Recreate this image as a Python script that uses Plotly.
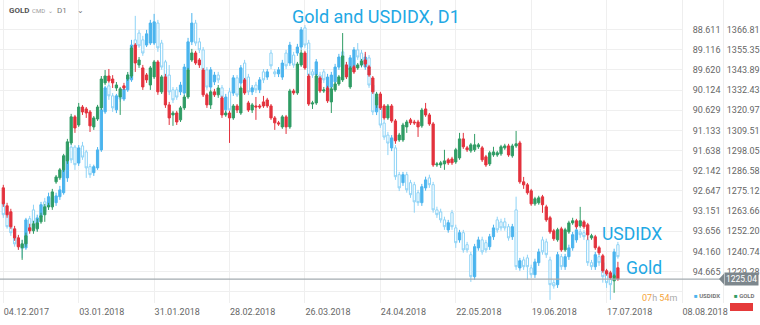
import plotly.graph_objects as go

# ---------------- data ----------------
date_labels = ["04.12.2017", "03.01.2018", "31.01.2018", "28.02.2018", "26.03.2018",
               "24.04.2018", "22.05.2018", "19.06.2018", "17.07.2018", "08.08.2018"]
date_label_bars = [0, 20, 40, 60, 80, 100, 120, 140, 160, 180]

usd_ticks = [88.611, 89.116, 89.620, 90.124, 90.629, 91.133, 91.638, 92.142,
             92.647, 93.151, 93.656, 94.160, 94.665, 95.169]
gold_ticks = [1366.81, 1355.35, 1343.89, 1332.43, 1320.97, 1309.51, 1298.05,
              1286.58, 1275.12, 1263.66, 1252.20, 1240.74, 1229.28]

gold_open = [1276.9,1266.7,1263.3,1253.6,1248.5,1242.9,1245.1,1254.2,1252.5,1253.6,
 1257.6,1261.6,1266.1,1266.1,1280.3,1282.6,1287.1,1292.2,1302.4,1317.2,
 1312.6,1322.8,1321.7,1320.0,1311.5,1316.0,1322.3,1336.5,1340.4,1338.7,
 1333.6,1328.5,1334.8,1338.7,1340.4,1358.0,1346.7,1345.0,1341.0,1335.3,
 1339.9,1348.4,1331.4,1339.9,1324.0,1318.3,1319.4,1315.5,1322.3,1328.5,
 1349.5,1353.5,1349.5,1343.8,1329.7,1324.0,1331.4,1329.7,1328.0,1318.3,
 1319.4,1316.6,1323.4,1319.4,1338.2,1325.1,1321.1,1323.4,1323.4,1325.7,
 1326.8,1323.4,1316.6,1313.8,1311.5,1317.2,1311.5,1331.9,1330.8,1346.7,
 1353.5,1340.4,1324.5,1325.1,1339.3,1331.9,1333.6,1325.7,1332.5,1335.9,
 1338.2,1346.7,1334.2,1345.6,1345.0,1346.7,1349.5,1345.6,1339.3,1324.0,
 1330.2,1323.4,1316.6,1323.4,1314.9,1304.1,1304.1,1311.5,1315.5,1314.3,
 1314.3,1312.1,1321.7,1318.3,1313.2,1289.9,1289.9,1290.5,1292.8,1293.3,
 1291.6,1293.9,1304.7,1299.6,1297.9,1298.5,1300.2,1299.6,1294.5,1290.5,
 1295.6,1295.6,1296.2,1299.6,1300.7,1295.1,1300.7,1302.4,1280.3,1278.6,
 1275.2,1267.8,1268.4,1271.8,1266.1,1259.9,1252.5,1247.4,1253.6,1241.7,
 1251.9,1257.0,1258.2,1255.3,1257.6,1255.9,1248.5,1249.1,1242.9,1238.3,
 1229.8,1228.7,1224.1,1231.5]
gold_close = [1267.8,1261.6,1254.8,1248.5,1243.4,1245.1,1249.7,1252.5,1256.5,1257.0,
 1261.0,1266.1,1266.7,1274.6,1283.1,1287.1,1295.1,1303.0,1317.2,1310.9,
 1322.8,1320.0,1319.4,1312.1,1316.6,1322.8,1338.7,1340.4,1337.6,1336.5,
 1335.3,1333.1,1333.6,1341.0,1356.3,1347.8,1349.5,1334.2,1338.2,1345.0,
 1348.4,1331.4,1339.9,1324.0,1316.6,1319.4,1314.3,1322.3,1328.5,1343.8,
 1353.5,1347.8,1346.7,1329.7,1324.0,1331.4,1329.7,1333.6,1318.3,1319.4,
 1316.6,1323.4,1321.1,1333.6,1330.8,1321.1,1324.0,1322.8,1322.8,1323.4,
 1323.4,1316.6,1313.8,1313.2,1317.2,1311.5,1331.9,1330.8,1347.2,1353.5,
 1345.0,1324.5,1325.1,1340.4,1331.9,1332.5,1326.3,1333.1,1335.9,1339.9,
 1351.8,1339.9,1345.0,1342.7,1346.7,1348.9,1347.2,1341.0,1331.4,1330.2,
 1322.3,1316.6,1323.4,1314.9,1303.6,1306.9,1312.6,1314.3,1313.8,1313.8,
 1311.5,1321.1,1318.3,1313.2,1289.9,1290.5,1291.1,1292.2,1291.1,1291.1,
 1298.5,1304.7,1300.2,1298.5,1301.3,1301.3,1301.3,1292.8,1289.9,1296.8,
 1297.3,1296.8,1300.2,1300.7,1295.6,1300.7,1301.9,1280.3,1278.6,1274.1,
 1267.8,1270.7,1271.2,1267.3,1258.7,1251.9,1248.0,1253.1,1241.7,1253.1,
 1257.0,1258.2,1254.8,1258.2,1254.8,1250.2,1249.7,1242.9,1240.0,1229.8,
 1228.1,1225.9,1227.0,1225.04]
gold_high = [1278.6,1268.4,1265.0,1255.3,1250.2,1247.4,1251.4,1256.5,1258.2,1259.3,
 1262.7,1267.8,1268.4,1276.3,1284.2,1288.2,1296.2,1304.7,1318.9,1318.3,
 1325.1,1323.9,1322.8,1321.1,1317.7,1324.0,1340.4,1343.8,1344.4,1340.9,
 1337.0,1334.2,1336.5,1342.7,1357.4,1359.1,1351.2,1346.7,1342.1,1346.1,
 1349.5,1349.5,1341.0,1341.6,1325.7,1320.6,1320.6,1323.4,1329.7,1345.0,
 1355.8,1354.7,1350.6,1345.0,1330.8,1332.5,1333.1,1335.3,1329.1,1320.6,
 1320.6,1324.5,1324.5,1334.8,1339.3,1326.3,1325.1,1328.5,1324.5,1329.1,
 1328.0,1324.5,1317.7,1314.9,1318.3,1318.3,1333.1,1333.1,1348.4,1355.2,
 1354.7,1341.6,1326.3,1341.6,1340.4,1334.2,1334.8,1334.2,1337.0,1341.0,
 1364.8,1348.4,1346.1,1346.7,1347.8,1350.1,1354.1,1346.7,1340.4,1331.4,
 1331.4,1324.5,1324.5,1324.5,1316.0,1308.1,1313.8,1315.5,1316.6,1315.5,
 1315.5,1322.3,1325.1,1319.4,1314.3,1291.6,1292.2,1298.5,1293.9,1294.5,
 1299.6,1308.1,1308.1,1300.7,1302.4,1307.5,1302.4,1300.7,1295.6,1297.9,
 1300.2,1297.9,1301.3,1301.9,1301.9,1301.9,1309.2,1303.6,1283.1,1279.7,
 1276.3,1271.8,1272.4,1272.9,1267.3,1261.0,1253.6,1254.2,1254.8,1254.2,
 1258.2,1259.9,1259.3,1266.1,1258.7,1257.0,1250.8,1250.2,1244.0,1239.4,
 1230.9,1229.8,1228.1,1234.9]
gold_low = [1266.1,1259.9,1253.6,1246.8,1241.7,1236.0,1243.4,1250.8,1250.8,1251.9,
 1256.5,1257.6,1264.4,1264.4,1279.2,1281.4,1285.9,1290.5,1301.3,1308.1,
 1311.5,1318.3,1316.6,1308.6,1309.8,1314.9,1321.1,1335.3,1336.5,1333.6,
 1331.9,1318.3,1332.5,1337.6,1339.3,1342.7,1345.0,1332.5,1336.5,1332.5,
 1338.7,1329.7,1330.2,1322.3,1312.6,1312.1,1312.6,1314.3,1321.1,1327.4,
 1348.4,1346.7,1345.0,1328.5,1322.3,1321.7,1328.5,1328.0,1316.6,1317.2,
 1302.4,1315.5,1319.4,1318.3,1329.7,1320.0,1319.4,1315.5,1321.7,1322.3,
 1322.3,1315.5,1309.8,1312.1,1310.4,1307.5,1310.4,1329.7,1329.7,1345.6,
 1343.9,1323.4,1321.7,1324.0,1330.8,1330.8,1325.1,1319.4,1331.4,1334.8,
 1337.0,1338.7,1333.1,1341.6,1343.9,1345.6,1345.6,1339.9,1330.2,1322.3,
 1321.1,1315.5,1315.5,1313.8,1301.9,1303.0,1303.0,1308.1,1312.6,1312.6,
 1305.8,1311.0,1317.2,1312.1,1288.8,1288.8,1288.2,1287.1,1289.9,1289.9,
 1290.5,1292.8,1299.0,1297.3,1296.8,1297.3,1299.0,1291.6,1288.8,1289.3,
 1294.5,1294.5,1295.1,1298.5,1294.5,1294.0,1299.6,1279.2,1276.3,1273.0,
 1266.7,1266.7,1267.3,1262.7,1257.6,1250.8,1246.8,1246.3,1240.6,1240.6,
 1250.8,1255.9,1253.6,1254.2,1253.6,1247.4,1247.4,1241.7,1238.9,1228.7,
 1227.0,1224.7,1217.3,1224.1]

usd_open = [92.97,93.24,93.54,93.77,93.87,93.99,94.07,93.34,93.12,93.57,
 93.29,92.92,93.04,92.82,92.94,92.79,92.69,92.32,91.55,91.55,
 91.95,91.52,91.67,92.04,92.19,92.07,91.62,90.67,90.02,90.27,
 90.62,90.20,90.35,90.12,89.87,88.87,88.70,88.87,89.00,88.95,
 88.95,88.45,88.95,89.42,89.75,90.12,90.12,90.17,90.20,89.62,
 88.92,88.45,88.92,89.12,89.62,90.05,89.92,89.75,90.07,90.62,
 90.17,90.20,89.82,89.95,89.45,89.80,90.17,90.00,90.12,89.67,
 89.80,89.20,89.67,89.72,89.80,89.20,89.45,89.25,89.20,89.05,
 88.57,88.95,89.67,89.75,89.75,89.67,90.17,90.05,89.92,89.55,
 89.17,89.50,89.62,89.55,89.12,89.20,89.55,89.32,90.00,90.67,
 90.55,90.95,91.25,91.57,91.57,92.24,92.44,92.24,92.44,92.49,
 92.69,92.94,92.57,92.32,92.49,93.12,93.17,93.37,93.62,93.19,
 93.57,93.87,93.69,93.99,94.24,94.79,94.07,93.87,93.94,94.04,
 93.79,93.37,93.42,93.42,93.54,93.79,93.12,94.57,94.37,94.32,
 94.57,94.74,94.44,93.87,93.92,94.37,94.94,94.99,94.29,94.54,
 94.29,94.07,93.87,93.67,93.69,93.87,94.44,94.54,94.29,94.44,
 94.69,94.79,94.79,93.99]
usd_close = [93.24,93.54,93.69,93.97,94.02,94.09,93.37,93.62,93.44,93.32,
 92.99,93.17,92.79,92.99,92.77,92.62,92.12,91.75,91.87,91.99,
 91.57,91.80,92.07,92.24,92.04,91.62,90.62,90.07,90.27,90.57,
 90.27,90.35,90.10,89.80,89.00,89.05,89.02,89.20,88.72,88.45,
 88.42,89.07,89.55,90.12,90.17,90.37,90.30,90.00,89.55,88.92,
 88.45,88.95,89.12,89.62,90.05,89.62,89.75,89.87,90.30,90.30,
 90.62,89.82,90.25,89.57,89.87,90.17,90.07,90.12,89.87,89.87,
 89.67,89.52,89.72,89.62,89.45,89.52,89.00,89.50,89.05,88.62,
 89.00,89.75,89.75,89.42,89.95,89.87,89.80,89.75,89.55,89.30,
 89.50,89.75,89.32,89.12,89.30,89.50,89.30,90.00,90.67,90.30,
 91.00,91.30,91.45,91.32,92.29,92.57,92.24,92.62,92.74,92.92,
 92.94,92.54,92.37,92.49,93.12,93.24,93.37,93.54,93.44,93.54,
 93.94,93.69,94.12,94.12,94.79,94.04,93.87,94.17,94.12,93.79,
 93.57,93.62,93.57,93.57,93.82,93.54,94.54,94.39,94.54,94.54,
 94.74,94.42,94.17,94.17,94.24,94.99,95.02,94.24,94.54,94.29,
 94.07,93.74,93.62,93.74,93.79,94.44,94.54,94.24,94.44,94.79,
 94.94,94.99,94.17,94.29]
usd_high = [93.32,93.59,93.77,94.04,94.12,94.32,94.12,93.69,93.52,93.64,
 93.34,93.24,93.12,93.07,93.02,92.87,92.74,92.42,91.95,92.12,
 92.02,91.87,92.32,92.32,92.27,92.12,91.67,90.72,90.37,90.67,
 90.70,90.42,90.40,90.17,89.92,89.07,89.07,89.27,89.05,89.00,
 89.00,89.17,89.62,90.20,90.25,90.45,90.37,90.25,90.27,89.70,
 89.00,89.02,89.20,89.70,90.12,90.12,90.00,89.95,90.37,90.70,
 90.70,90.27,90.30,90.02,89.95,90.25,90.25,90.20,90.20,89.95,
 89.87,89.60,89.80,89.80,89.87,89.60,89.52,89.57,89.27,89.12,
 89.07,89.82,89.82,89.82,90.02,89.95,90.25,90.12,90.00,89.62,
 89.57,89.82,89.70,89.62,89.37,89.57,89.62,90.07,90.75,90.75,
 91.07,91.37,91.75,91.65,92.37,92.65,92.52,92.69,92.82,93.19,
 93.02,93.02,92.64,92.57,93.19,93.32,93.44,93.62,93.69,93.62,
 94.07,93.94,94.19,94.19,94.92,94.87,94.14,94.24,94.19,94.12,
 93.87,93.69,93.64,93.64,93.89,93.87,94.62,94.64,94.62,94.87,
 94.82,94.82,94.52,94.24,94.32,95.37,95.09,95.07,94.62,94.62,
 94.37,94.14,93.94,93.82,93.87,94.52,94.62,94.62,94.52,94.94,
 95.07,95.37,94.87,94.34]
usd_low = [92.92,93.19,93.47,93.69,93.77,93.87,93.32,93.27,92.99,93.24,
 92.92,92.82,92.69,92.74,92.69,92.52,92.07,91.62,91.45,91.50,
 91.50,91.42,91.62,91.97,91.99,91.55,90.55,90.02,89.95,90.20,
 90.22,90.10,90.02,89.72,88.87,88.27,88.62,88.77,88.62,88.37,
 88.22,88.37,88.87,89.37,89.50,90.05,90.05,89.92,89.47,88.82,
 88.20,88.37,88.82,89.05,89.55,89.55,89.67,89.67,90.00,90.22,
 90.07,89.75,89.75,89.50,89.37,89.72,90.00,89.92,89.80,89.60,
 89.60,89.12,89.60,89.55,89.37,89.12,88.92,89.17,88.97,88.55,
 88.50,88.87,89.60,89.35,89.67,89.60,89.72,89.67,89.47,89.22,
 89.10,89.42,89.25,89.05,88.95,89.12,89.22,89.25,89.92,90.22,
 90.47,90.87,91.17,91.25,91.50,92.17,92.17,92.17,92.37,92.42,
 92.62,92.47,92.29,92.24,92.42,93.04,93.09,93.29,93.37,93.12,
 93.49,93.62,93.62,93.92,94.17,93.97,93.79,93.79,93.87,93.72,
 93.49,93.29,93.34,93.32,93.47,93.47,92.79,94.32,94.29,94.24,
 94.49,94.34,94.09,93.79,93.84,94.29,94.87,94.17,94.22,94.22,
 93.99,93.67,93.54,93.59,93.62,93.79,94.37,94.17,94.22,94.37,
 94.62,94.72,94.09,93.92]

gold_last = gold_close[-1]
bars = list(range(len(gold_close)))

# ---------------- figure ----------------
W, H = 760, 325
PLOT_R = 682      # right edge of candle area (px)
PLOT_B = 303      # bottom edge of candle area (px)
GOLD_AX = 723     # second price column separator (px)

fig = go.Figure()

fig.add_trace(go.Candlestick(
    x=bars, open=usd_open, high=usd_high, low=usd_low, close=usd_close,
    xaxis="x", yaxis="y", name="USDIDX",
    increasing=dict(fillcolor="#ffffff", line=dict(color="#8ed3f6", width=1)),
    decreasing=dict(fillcolor="#4bb4ee", line=dict(color="#4bb4ee", width=1)),
    whiskerwidth=0, hoverinfo="skip", showlegend=False))

fig.add_trace(go.Candlestick(
    x=bars, open=gold_open, high=gold_high, low=gold_low, close=gold_close,
    xaxis="x", yaxis="y2", name="GOLD",
    increasing=dict(fillcolor="#2f9c64", line=dict(color="#2f9c64", width=1)),
    decreasing=dict(fillcolor="#e3323d", line=dict(color="#e3323d", width=1)),
    whiskerwidth=0, hoverinfo="skip", showlegend=False))

usd_top = 88.611 - 29.5 * 0.024996
usd_bot = 88.611 + (PLOT_B - 29.5) * 0.024996
gold_top = 1366.81 + 29.5 * 0.56784
gold_bot = 1366.81 - (PLOT_B - 29.5) * 0.56784

tick_font = dict(family="Roboto", size=9, color="#666666")

fig.update_layout(
    width=W, height=H,
    margin=dict(l=0, r=0, t=0, b=0, autoexpand=False),
    paper_bgcolor="white", plot_bgcolor="white",
    showlegend=False,
    boxgap=0.15,
    xaxis=dict(
        domain=[0, PLOT_R / W], range=[-0.875, 180],
        tickvals=date_label_bars, ticktext=date_labels,
        ticklabelposition="outside right",
        ticks="outside", ticklen=5, tickcolor="rgba(0,0,0,0)",
        showgrid=True, gridcolor="#efefef", gridwidth=1,
        zeroline=False, showline=False, automargin=False,
        rangeslider=dict(visible=False),
        tickfont=tick_font, fixedrange=True),
    yaxis=dict(
        domain=[1 - PLOT_B / H, 1], range=[usd_bot, usd_top],
        side="right", anchor="x",
        tickvals=usd_ticks,
        ticktext=[f"{v:.3f}" for v in usd_ticks[:-1]] + [""],
        ticks="outside", ticklen=8, tickcolor="rgba(0,0,0,0)",
        showgrid=True, gridcolor="#efefef", gridwidth=1,
        zeroline=False, showline=True, linecolor="#eeeeee", automargin=False,
        tickfont=tick_font),
    yaxis2=dict(
        domain=[1 - PLOT_B / H, 1], range=[gold_bot, gold_top],
        overlaying="y", side="right", anchor="free", position=GOLD_AX / W,
        autoshift=False, automargin=False,
        tickvals=gold_ticks, ticktext=[f"{v:.2f}" for v in gold_ticks],
        ticks="", ticklabelstandoff=1,
        showgrid=False, zeroline=False, showline=True, linecolor="#eeeeee",
        tickfont=tick_font),
)

# current gold price line and tag
fig.add_shape(type="line", xref="paper", yref="y2", x0=0, x1=GOLD_AX / W,
              y0=gold_last, y1=gold_last, line=dict(color="#a3abb0", width=1.2))
fig.add_shape(type="path", xref="paper", yref="paper",
              path=f"M {(GOLD_AX-4)/W} {1-279/H} L {(GOLD_AX+1)/W} {1-273.5/H} L {(GOLD_AX+1)/W} {1-284.5/H} Z",
              fillcolor="#7d878d", line=dict(width=0))
fig.add_annotation(xref="paper", yref="y2", x=(GOLD_AX + 1) / W, y=gold_last,
                   xanchor="left", yanchor="middle", text=f"{gold_last:.2f}",
                   showarrow=False, bgcolor="#7d878d", borderpad=1,
                   font=dict(family="Roboto", size=8.5, color="white"))

# titles / labels
blue = "#22a8e4"
fig.add_annotation(xref="paper", yref="paper", x=376 / W, y=1 - 17 / H,
                   text="Gold and USDIDX, D1", showarrow=False,
                   xanchor="center", yanchor="middle",
                   font=dict(family="Roboto", size=18, color=blue))
fig.add_annotation(xref="paper", yref="paper", x=600 / W, y=1 - 234 / H,
                   text="USDIDX", showarrow=False, xanchor="left", yanchor="middle",
                   font=dict(family="Roboto", size=17.5, color=blue))
fig.add_annotation(xref="paper", yref="paper", x=624 / W, y=1 - 268 / H,
                   text="Gold", showarrow=False, xanchor="left", yanchor="middle",
                   font=dict(family="Roboto", size=17.5, color=blue))

# top-left instrument header
fig.add_annotation(xref="paper", yref="paper", x=7 / W, y=1 - 10 / H,
                   text="<b>GOLD</b>", showarrow=False, xanchor="left", yanchor="middle",
                   font=dict(family="Roboto", size=8, color="#555555"))
fig.add_annotation(xref="paper", yref="paper", x=30 / W, y=1 - 10 / H,
                   text="CMD  \u2304", showarrow=False, xanchor="left", yanchor="middle",
                   font=dict(family="Roboto", size=6, color="#999999"))
fig.add_annotation(xref="paper", yref="paper", x=55 / W, y=1 - 10 / H,
                   text="D1     \u2304", showarrow=False, xanchor="left", yanchor="middle",
                   font=dict(family="Roboto", size=8, color="#777777"))

# countdown and legend
fig.add_annotation(xref="paper", yref="paper", x=679 / W, y=1 - 298 / H,
                   text='<span style="color:#f5a53a">07</span>h <span style="color:#f5a53a">54</span>m',
                   showarrow=False, xanchor="right", yanchor="middle",
                   font=dict(family="Roboto", size=9, color="#aaaaaa"))
fig.add_annotation(xref="paper", yref="paper", x=692 / W, y=1 - 295 / H,
                   text='<span style="color:#4bb4ee">\u25a0</span> <b>USDIDX</b>',
                   showarrow=False, xanchor="left", yanchor="middle",
                   font=dict(family="Roboto", size=6, color="#777777"))
fig.add_annotation(xref="paper", yref="paper", x=732 / W, y=1 - 295 / H,
                   text='<span style="color:#2f9c64">\u25a0</span> <b>GOLD</b>',
                   showarrow=False, xanchor="left", yanchor="middle",
                   font=dict(family="Roboto", size=6, color="#777777"))
fig.add_shape(type="rect", xref="paper", yref="paper",
              x0=730 / W, x1=753 / W, y0=1 - 311 / H, y1=1 - 303 / H,
              fillcolor="#e53a3a", line=dict(width=0))

fig.write_html("out.html", config={"displayModeBar": False})
